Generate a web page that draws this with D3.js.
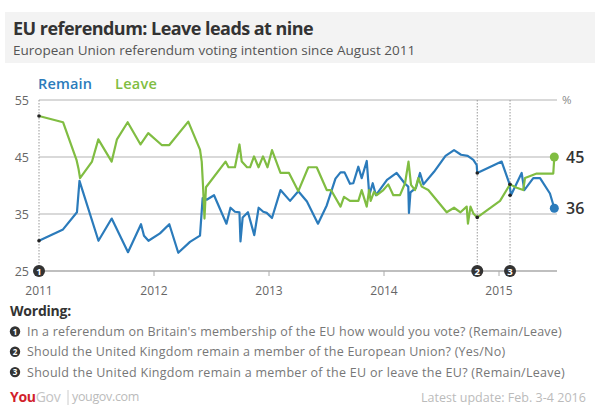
<!DOCTYPE html>
<html><head><meta charset="utf-8">
<script src="https://cdn.jsdelivr.net/npm/d3@7"></script>
<style>
body{margin:0;background:#fff;}
svg{font-family:"Open Sans",Lato,sans-serif;}
</style></head>
<body><svg id="c" width="600" height="417"></svg>
<script>
// decimal years on the chart's own axis (tick "2011" = first survey)
const remainX = [2011.000,2011.209,2011.330,2011.352,2011.517,2011.632,2011.774,2011.887,2011.913,2011.952,2012.052,2012.133,2012.211,2012.313,2012.400,2012.423,2012.458,2012.522,2012.630,2012.665,2012.704,2012.743,2012.752,2012.771,2012.817,2012.872,2012.910,2012.950,2012.980,2013.026,2013.100,2013.183,2013.255,2013.330,2013.426,2013.502,2013.578,2013.622,2013.657,2013.704,2013.733,2013.777,2013.806,2013.850,2013.872,2013.902,2013.930,2014.026,2014.110,2014.183,2014.211,2014.217,2014.230,2014.278,2014.313,2014.343,2014.435,2014.535,2014.609,2014.670,2014.728,2014.777,2014.806,2014.811,2015.023,2015.091,2015.104,2015.152,2015.197,2015.220,2015.298,2015.357,2015.443,2015.481];
const remainV = [30.3,32.3,35.3,40.8,30.3,34.2,28.3,33.2,31.2,30.3,31.6,33.2,28.2,30.1,31.2,37.8,37.5,38.3,33.3,36.1,35.4,35.3,30.2,34.4,35.3,31.3,36.1,35.4,35.2,34.3,39.2,37.3,39.0,37.2,33.3,36.5,41.2,42.3,42.3,40.3,40.4,43.3,41.3,44.3,38.3,40.4,38.3,41.0,42.2,40.3,39.8,35.2,38.8,39.6,42.2,40.2,42.4,45.2,46.2,45.4,45.2,44.5,43.6,42.2,44.2,40.3,38.3,40.3,42.2,39.2,41.3,41.3,38.6,36];
const leaveX = [2011.000,2011.209,2011.326,2011.343,2011.357,2011.461,2011.516,2011.632,2011.678,2011.771,2011.883,2011.950,2012.067,2012.133,2012.298,2012.400,2012.415,2012.426,2012.439,2012.452,2012.622,2012.648,2012.704,2012.743,2012.763,2012.809,2012.835,2012.870,2012.909,2012.948,2012.987,2013.026,2013.100,2013.174,2013.255,2013.342,2013.415,2013.502,2013.539,2013.622,2013.652,2013.704,2013.777,2013.806,2013.850,2013.870,2013.884,2013.913,2013.937,2013.994,2014.037,2014.081,2014.139,2014.183,2014.213,2014.235,2014.270,2014.298,2014.328,2014.385,2014.545,2014.609,2014.665,2014.719,2014.730,2014.752,2014.777,2014.811,2015.009,2015.078,2015.096,2015.154,2015.211,2015.226,2015.328,2015.472,2015.481];
const leaveV = [52.2,51.1,44.5,43.0,41.3,44.2,48.1,44.2,48.1,51.1,47.2,49.2,47.1,47.1,51.2,46.3,44.2,40.0,34.2,39.7,44.2,43.2,43.2,47.2,44.2,43.2,43.2,45.1,43.2,45.1,43.2,46.2,42.2,42.2,39.0,43.2,43.2,39.2,39.2,36.3,38.0,37.3,37.3,39.2,36.3,39.2,37.3,38.9,38.3,39.2,40.2,38.3,38.3,40.4,44.2,40.1,39.2,41.3,39.8,39.2,35.3,36.1,35.3,36.3,33.3,36.3,35.1,34.4,37.3,39.6,40.2,39.6,39.2,41.3,42.1,42.1,45];
// wording changes
const changeX = [2011.000, 2014.811, 2015.096];
const changeRemain = [30.3, 42.2, 38.3];
const changeLeave = [52.2, 34.4, 40.2];
const changeNum = ["1","2","3"];
const yTicks = [25,35,45,55];
const xTicks = [2011,2012,2013,2014,2015];
const seriesNames = ["Remain","Leave"];
const wording = ["In a referendum on Britain's membership of the EU how would you vote? (Remain/Leave)",
 "Should the United Kingdom remain a member of the European Union? (Yes/No)",
 "Should the United Kingdom remain a member of the EU or leave the EU? (Remain/Leave)"];

const BLUE="#2b7bbb", GREEN="#80bd42";
const svg=d3.select("#c");
const x=d3.scaleLinear().domain([2011,2015]).range([39,499]);
const y=d3.scaleLinear().domain([25,55]).range([271,100]);
const xEnd=557;

// stretch text to the width it has in the reference (wide display font)
function fit(sel,w){
  const n=sel.text().length;
  const m=sel.node().getComputedTextLength();
  sel.attr("letter-spacing",((w-m)/n).toFixed(2));
  return sel;
}

// header
svg.append("rect").attr("x",5).attr("y",12).attr("width",590).attr("height",51).attr("fill","#f3f3f3");
fit(svg.append("text").attr("x",13).attr("y",35).attr("font-size",18).attr("font-weight",700).attr("fill","#333").text("EU referendum: Leave leads at nine"),300);
fit(svg.append("text").attr("x",13).attr("y",55).attr("font-size",13.5).attr("fill","#555").text("European Union referendum voting intention since August 2011"),402);

// legend
fit(svg.append("text").attr("x",38).attr("y",89).attr("font-size",14.5).attr("font-weight",600).attr("fill",BLUE).text(seriesNames[0]),54);
fit(svg.append("text").attr("x",115).attr("y",89).attr("font-size",14.5).attr("font-weight",600).attr("fill",GREEN).text(seriesNames[1]),42);

// gridlines
svg.append("g").selectAll("line").data(yTicks).join("line")
  .attr("x1",x(2011)).attr("x2",xEnd).attr("y1",d=>y(d)).attr("y2",d=>y(d))
  .attr("stroke",d=>d===25?"#aaa":"#cdcdcd").attr("stroke-width",1.5);
svg.append("g").selectAll("text").data(yTicks).join("text")
  .attr("x",29).attr("y",d=>y(d)+4.5).attr("text-anchor","end").attr("font-size",12.5).attr("fill","#666").text(d=>d);
svg.append("text").attr("x",562).attr("y",104).attr("font-size",11.5).attr("fill","#888").text("%");

// x axis ticks
const xa=svg.append("g");
xa.selectAll("line").data(xTicks).join("line").attr("x1",d=>x(d)).attr("x2",d=>x(d)).attr("y1",271).attr("y2",276).attr("stroke","#aaa");
xa.selectAll("text").data(xTicks).join("text").attr("x",d=>x(d)).attr("y",295).attr("text-anchor","middle").attr("font-size",12).attr("fill","#666").text(d=>d);

// dotted change lines
svg.append("g").selectAll("line").data(changeX).join("line")
  .attr("x1",d=>x(d)).attr("x2",d=>x(d)).attr("y1",y(55)).attr("y2",y(25))
  .attr("stroke","#999").attr("stroke-width",1).attr("stroke-dasharray","1.5,1.5");

const line=d3.line().x(d=>x(d[0])).y(d=>y(d[1]));
const rem=remainX.map((d,i)=>[d,remainV[i]]);
const lea=leaveX.map((d,i)=>[d,leaveV[i]]);
svg.append("path").datum(rem).attr("d",line).attr("fill","none").attr("stroke",BLUE).attr("stroke-width",2.2).attr("stroke-linejoin","round");
svg.append("path").datum(lea).attr("d",line).attr("fill","none").attr("stroke",GREEN).attr("stroke-width",2.2).attr("stroke-linejoin","round");

// change dots and numbered markers
changeX.forEach((cx,i)=>{
  svg.append("circle").attr("cx",x(cx)).attr("cy",y(changeRemain[i])).attr("r",1.8).attr("fill","#222");
  svg.append("circle").attr("cx",x(cx)).attr("cy",y(changeLeave[i])).attr("r",1.8).attr("fill","#222");
  svg.append("circle").attr("cx",x(cx)).attr("cy",y(25)).attr("r",6).attr("fill","#333");
  svg.append("text").attr("x",x(cx)).attr("y",y(25)+3.5).attr("text-anchor","middle").attr("font-size",9.5).attr("font-weight",700).attr("fill","#fff").text(changeNum[i]);
});

// end points
const lastR=rem[rem.length-1], lastL=lea[lea.length-1];
svg.append("circle").attr("cx",x(lastR[0])).attr("cy",y(lastR[1])).attr("r",4.5).attr("fill",BLUE);
svg.append("circle").attr("cx",x(lastL[0])).attr("cy",y(lastL[1])).attr("r",4.5).attr("fill",GREEN);
svg.append("text").attr("x",566).attr("y",y(lastL[1])+6).attr("font-size",16).attr("font-weight",600).attr("fill","#333").text(Math.round(lastL[1]));
svg.append("text").attr("x",566).attr("y",y(lastR[1])+6).attr("font-size",16).attr("font-weight",600).attr("fill","#333").text(Math.round(lastR[1]));

// wording
fit(svg.append("text").attr("x",10).attr("y",316).attr("font-size",14).attr("font-weight",700).attr("fill","#333").text("Wording:"),61);
const ends=[562,505,565];
wording.forEach((w,i)=>{
  const cy=331.5+i*20.3;
  svg.append("circle").attr("cx",15).attr("cy",cy).attr("r",5.2).attr("fill","#333");
  svg.append("text").attr("x",15).attr("y",cy+3).attr("text-anchor","middle").attr("font-size",8).attr("font-weight",700).attr("fill","#fff").text(changeNum[i]);
  fit(svg.append("text").attr("x",27).attr("y",cy+4.5).attr("font-size",12.5).attr("fill","#777").text(w),ends[i]-27);
});

// footer
const f=svg.append("text").attr("x",10).attr("y",402).attr("font-size",14).attr("letter-spacing",-0.3);
f.append("tspan").attr("font-weight",700).attr("fill","#d21f2c").text("You");
f.append("tspan").attr("fill","#c4c4c4").text("Gov");
svg.append("line").attr("x1",68).attr("x2",68).attr("y1",390).attr("y2",405).attr("stroke","#ccc");
fit(svg.append("text").attr("x",72).attr("y",401).attr("font-size",12.5).attr("fill","#bbb").text("yougov.com"),67);
const lu=svg.append("text").attr("x",421).attr("y",402).attr("font-size",12.5).attr("fill","#bbb").text("Latest update: Feb. 3-4 2016");
fit(lu,165);
</script></body></html>
